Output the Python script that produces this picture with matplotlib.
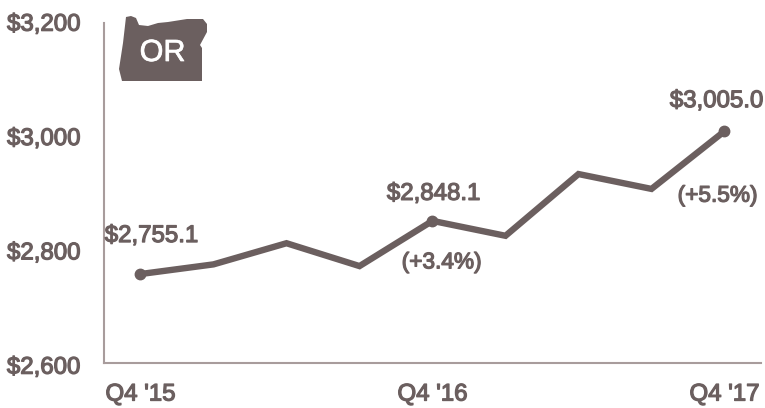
import matplotlib
matplotlib.use("Agg")
from matplotlib import pyplot as plt
from matplotlib.patches import Polygon
from matplotlib.patheffects import withStroke
from matplotlib.transforms import ScaledTranslation

quarters = ["Q4 '15", "Q1 '16", "Q2 '16", "Q3 '16", "Q4 '16", "Q1 '17", "Q2 '17", "Q3 '17", "Q4 '17"]
values = [2755.1, 2772, 2809, 2769, 2848.1, 2822, 2930, 2904, 3005.0]
yticks = [2600, 2800, 3000, 3200]
xtick_idx = [0, 4, 8]
value_labels = {0: "$2,755.1", 4: "$2,848.1", 8: "$3,005.0"}
pct_labels = {4: "(+3.4%)", 8: "(+5.5%)"}

dark = "#6b5f5f"
axis_c = "#a89c9c"
W, H = 765, 408
fs = 17.3
# fake a medium weight, the installed families only have regular and bold
heavier = [withStroke(linewidth=0.9, foreground=dark)]

plt.rcParams["font.family"] = ["Liberation Sans", "DejaVu Sans"]
fig = plt.figure(figsize=(W/100, H/100), dpi=100)
ax = fig.add_axes([104/W, 1-362.7/H, 657/W, 343/H])

ax.plot(range(len(values)), values, color=dark, lw=4.6, solid_joinstyle="miter")
ax.plot([i for i in value_labels], [values[i] for i in value_labels], "o", color=dark, ms=7.5)

ax.set_xlim(-0.5, 8.5)
ax.set_ylim(2600, 3200)
ax.set_yticks(yticks)
ax.set_yticklabels([f"${v:,}" for v in yticks])
ax.set_xticks(xtick_idx)
ax.set_xticklabels([quarters[i] for i in xtick_idx])
ax.tick_params(length=0, labelsize=fs, labelcolor=dark)
ax.tick_params(axis="x", pad=15)
ax.tick_params(axis="y", pad=17)
nudge = ScaledTranslation(0, -2.5/100, fig.dpi_scale_trans)
for lab in ax.get_xticklabels() + ax.get_yticklabels():
    lab.set_path_effects(heavier)
for lab in ax.get_yticklabels():
    lab.set_transform(lab.get_transform() + nudge)
ax.spines[["top", "right"]].set_visible(False)
ax.spines[["left", "bottom"]].set_color(axis_c)
ax.spines[["left", "bottom"]].set_linewidth(1.5)
ax.spines["left"].set_bounds(2600, 3194)

offs = {0: (11, 38), 4: (1, 27), 8: (-8, 30)}
for i, s in value_labels.items():
    ax.annotate(s, (i, values[i]), xytext=offs[i], textcoords="offset pixels", ha="center",
                va="center", fontsize=fs, color=dark, path_effects=heavier)
pct_offs = {4: (9, -41), 8: (-7, -64)}
for i, s in pct_labels.items():
    ax.annotate(s, (i, values[i]), xytext=pct_offs[i], textcoords="offset pixels",
                ha="center", va="center", fontsize=16.3, color=dark, path_effects=heavier)

# oregon outline, traced in pixels off the reference
outline = [(126, 17), (131, 16), (136, 18), (139, 25), (148, 26), (158, 23), (168, 22), (187, 19),
           (203, 19), (207, 24), (207, 32), (200, 45), (202, 48), (202, 81), (122, 81), (119, 69), (123, 43)]
fig.add_artist(Polygon([(x/W, 1-y/H) for x, y in outline], closed=True, transform=fig.transFigure,
                       facecolor=dark, edgecolor="none"))
fig.text(162.5/W, 1-53/H, "OR", color="white", fontsize=22, ha="center", va="center",
         path_effects=[withStroke(linewidth=0.5, foreground="white")])

fig.savefig("out.png", dpi=100)
